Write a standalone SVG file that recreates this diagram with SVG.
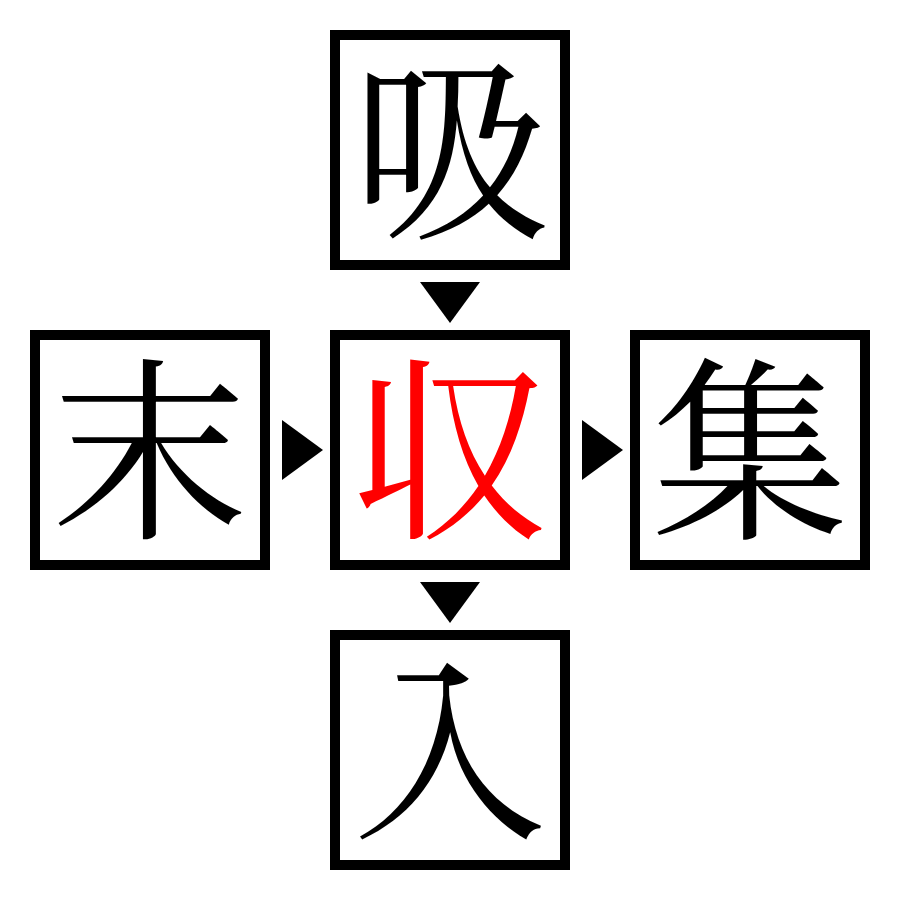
<svg xmlns="http://www.w3.org/2000/svg" width="900" height="900" viewBox="0 0 900 900">
<style>
.box{fill:#fff;stroke:#000;stroke-width:10}
.ch{font-family:"Noto Serif CJK JP","Noto Serif CJK SC",serif;font-size:196px;text-anchor:middle;dominant-baseline:central;fill:#000}
.red{fill:#ff0000}
.arr{fill:#000}
</style>
<rect width="900" height="900" fill="#fff"/>
<g id="connectors">
<polygon class="arr" points="420,282 480,282 450,323"/>
<polygon class="arr" points="420,582 480,582 450,623"/>
<polygon class="arr" points="282,420 282,480 323,450"/>
<polygon class="arr" points="582,420 582,480 623,450"/>
</g>
<g id="node-top"><rect class="box" x="335" y="35" width="230" height="230"/><text class="ch" x="450" y="138">吸</text></g>
<g id="node-left"><rect class="box" x="35" y="335" width="230" height="230"/><text class="ch" x="150" y="438">末</text></g>
<g id="node-center"><rect class="box" x="335" y="335" width="230" height="230"/><text class="ch red" x="450" y="438">収</text></g>
<g id="node-right"><rect class="box" x="635" y="335" width="230" height="230"/><text class="ch" x="750" y="438">集</text></g>
<g id="node-bottom"><rect class="box" x="335" y="635" width="230" height="230"/><text class="ch" x="450" y="738">入</text></g>
</svg>
